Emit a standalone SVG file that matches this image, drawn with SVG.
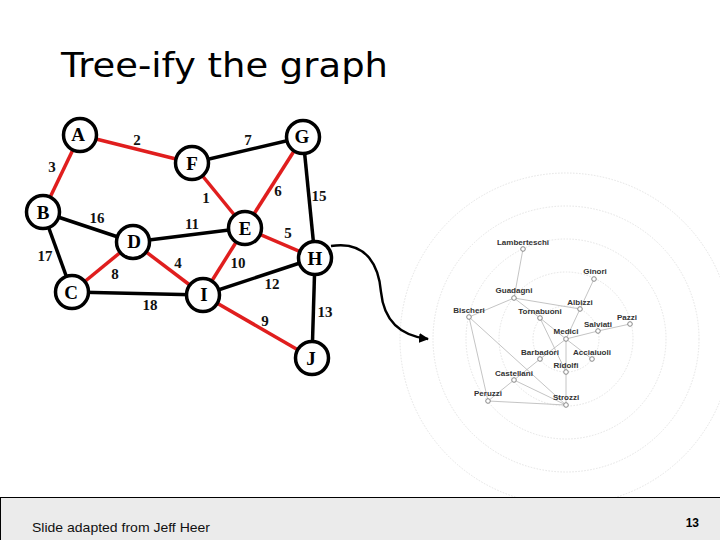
<svg xmlns="http://www.w3.org/2000/svg" width="720" height="540" viewBox="0 0 720 540">
<defs>
<style>
.e{stroke:#000;stroke-width:3.5;fill:none}
.r{stroke:#e01e1e;stroke-width:3.5;fill:none}
.n circle{fill:#fff;stroke:#000;stroke-width:3.5}
.n text{font-family:"Liberation Serif",serif;font-weight:bold;font-size:19px;text-anchor:middle}
.w{font-family:"Liberation Serif",serif;font-weight:bold;font-size:15px;text-anchor:middle;fill:#111}
.ring{fill:none;stroke:#e4e4e4;stroke-width:1;stroke-dasharray:1.5 1.5}
.fe{stroke:#bdbdbd;stroke-width:0.9;fill:none}
.fn circle{fill:#fff;stroke:#888;stroke-width:1}
.fn text{font-family:"Liberation Sans",sans-serif;font-weight:bold;font-size:8px;fill:#333;text-anchor:middle}
</style>
<marker id="ah" viewBox="0 0 10 10" refX="9" refY="5" markerWidth="4" markerHeight="4" orient="auto">
<path d="M0,0 L10,5 L0,10 z" fill="#000"/>
</marker>
</defs>
<rect width="720" height="540" fill="#fff"/>
<text x="61" y="77" font-family="DejaVu Sans,sans-serif" font-size="34" textLength="327" lengthAdjust="spacingAndGlyphs">Tree-ify the graph</text>

<g id="rings">
<circle class="ring" cx="566" cy="339" r="33"/>
<circle class="ring" cx="566" cy="339" r="67"/>
<circle class="ring" cx="566" cy="339" r="100"/>
<circle class="ring" cx="566" cy="339" r="133"/>
<circle class="ring" cx="566" cy="339" r="166"/>
</g>

<g id="connectors">
<line class="r" x1="80" y1="135" x2="192" y2="163"/>
<line class="r" x1="80" y1="135" x2="43" y2="212"/>
<line class="e" x1="192" y1="163" x2="303" y2="137"/>
<line class="r" x1="192" y1="163" x2="245" y2="228"/>
<line class="r" x1="303" y1="137" x2="245" y2="228"/>
<line class="e" x1="303" y1="137" x2="315" y2="258"/>
<line class="e" x1="43" y1="212" x2="133" y2="242"/>
<line class="e" x1="43" y1="212" x2="72" y2="292"/>
<line class="e" x1="133" y1="242" x2="245" y2="228"/>
<line class="r" x1="245" y1="228" x2="315" y2="258"/>
<line class="r" x1="133" y1="242" x2="72" y2="292"/>
<line class="r" x1="133" y1="242" x2="203" y2="295"/>
<line class="r" x1="245" y1="228" x2="203" y2="295"/>
<line class="e" x1="72" y1="292" x2="203" y2="295"/>
<line class="e" x1="203" y1="295" x2="315" y2="258"/>
<line class="r" x1="203" y1="295" x2="312" y2="358"/>
<line class="e" x1="315" y1="258" x2="312" y2="358"/>
<path d="M331,246 C368,240 379,268 381,292 C384,322 402,336 428,339" fill="none" stroke="#000" stroke-width="2.5" marker-end="url(#ah)"/>
<g id="florence-edges">
<line class="fe" x1="523" y1="249" x2="514" y2="298"/>
<line class="fe" x1="514" y1="298" x2="469" y2="317"/>
<line class="fe" x1="514" y1="298" x2="580" y2="309"/>
<line class="fe" x1="514" y1="298" x2="540" y2="318"/>
<line class="fe" x1="594" y1="279" x2="580" y2="309"/>
<line class="fe" x1="580" y1="309" x2="566" y2="339"/>
<line class="fe" x1="540" y1="318" x2="566" y2="339"/>
<line class="fe" x1="540" y1="318" x2="566" y2="372"/>
<line class="fe" x1="566" y1="339" x2="598" y2="331"/>
<line class="fe" x1="598" y1="331" x2="630" y2="324"/>
<line class="fe" x1="566" y1="339" x2="592" y2="359"/>
<line class="fe" x1="566" y1="339" x2="540" y2="359"/>
<line class="fe" x1="566" y1="339" x2="566" y2="372"/>
<line class="fe" x1="566" y1="372" x2="566" y2="405"/>
<line class="fe" x1="540" y1="359" x2="514" y2="380"/>
<line class="fe" x1="469" y1="317" x2="566" y2="405"/>
<line class="fe" x1="469" y1="317" x2="488" y2="401"/>
<line class="fe" x1="514" y1="380" x2="488" y2="401"/>
<line class="fe" x1="514" y1="380" x2="566" y2="405"/>
<line class="fe" x1="488" y1="401" x2="566" y2="405"/>
</g>
</g>

<g id="A" class="n"><circle cx="80" cy="135" r="16.5"/><text x="78" y="141">A</text></g>
<g id="F" class="n"><circle cx="192" cy="163" r="16.5"/><text x="192" y="170">F</text></g>
<g id="G" class="n"><circle cx="303" cy="137" r="16.5"/><text x="302" y="143">G</text></g>
<g id="B" class="n"><circle cx="43" cy="212" r="16.5"/><text x="43" y="219">B</text></g>
<g id="D" class="n"><circle cx="133" cy="242" r="16.5"/><text x="134" y="248">D</text></g>
<g id="E" class="n"><circle cx="245" cy="228" r="16.5"/><text x="245" y="235">E</text></g>
<g id="H" class="n"><circle cx="315" cy="258" r="16.5"/><text x="315" y="265">H</text></g>
<g id="C" class="n"><circle cx="72" cy="292" r="16.5"/><text x="71" y="299">C</text></g>
<g id="I" class="n"><circle cx="203" cy="295" r="16.5"/><text x="204" y="301">I</text></g>
<g id="J" class="n"><circle cx="312" cy="358" r="16.5"/><text x="311" y="365">J</text></g>

<g id="weights">
<text class="w" x="137" y="145">2</text>
<text class="w" x="248" y="145">7</text>
<text class="w" x="52" y="172">3</text>
<text class="w" x="206" y="203">1</text>
<text class="w" x="278" y="196">6</text>
<text class="w" x="319" y="201">15</text>
<text class="w" x="97" y="223">16</text>
<text class="w" x="192" y="229">11</text>
<text class="w" x="288" y="238">5</text>
<text class="w" x="45" y="261">17</text>
<text class="w" x="115" y="279">8</text>
<text class="w" x="178" y="268">4</text>
<text class="w" x="238" y="268">10</text>
<text class="w" x="272" y="289">12</text>
<text class="w" x="150" y="310">18</text>
<text class="w" x="265" y="326">9</text>
<text class="w" x="325" y="317">13</text>
</g>

<g id="Lamberteschi" class="fn"><circle cx="523" cy="249" r="2.3"/><text x="523" y="245">Lamberteschi</text></g>
<g id="Ginori" class="fn"><circle cx="594" cy="279" r="2.3"/><text x="595" y="274">Ginori</text></g>
<g id="Guadagni" class="fn"><circle cx="514" cy="298" r="2.3"/><text x="514" y="293">Guadagni</text></g>
<g id="Albizzi" class="fn"><circle cx="580" cy="309" r="2.3"/><text x="580" y="305">Albizzi</text></g>
<g id="Bischeri" class="fn"><circle cx="469" cy="317" r="2.3"/><text x="469" y="313">Bischeri</text></g>
<g id="Tornabuoni" class="fn"><circle cx="540" cy="318" r="2.3"/><text x="540" y="314">Tornabuoni</text></g>
<g id="Pazzi" class="fn"><circle cx="630" cy="324" r="2.3"/><text x="627" y="320">Pazzi</text></g>
<g id="Salviati" class="fn"><circle cx="598" cy="331" r="2.3"/><text x="598" y="327">Salviati</text></g>
<g id="Medici" class="fn"><circle cx="566" cy="339" r="2.3"/><text x="566" y="334">Medici</text></g>
<g id="Barbadori" class="fn"><circle cx="540" cy="359" r="2.3"/><text x="540" y="355">Barbadori</text></g>
<g id="Acciaiuoli" class="fn"><circle cx="592" cy="359" r="2.3"/><text x="592" y="355">Acciaiuoli</text></g>
<g id="Ridolfi" class="fn"><circle cx="566" cy="372" r="2.3"/><text x="566" y="368">Ridolfi</text></g>
<g id="Castellani" class="fn"><circle cx="514" cy="380" r="2.3"/><text x="514" y="376">Castellani</text></g>
<g id="Peruzzi" class="fn"><circle cx="488" cy="401" r="2.3"/><text x="488" y="396">Peruzzi</text></g>
<g id="Strozzi" class="fn"><circle cx="566" cy="405" r="2.3"/><text x="566" y="400">Strozzi</text></g>

<g id="footer">
<rect x="0.5" y="497.5" width="720" height="43" fill="#ebebeb" stroke="#000" stroke-width="1"/>
<text x="32" y="532" font-family="Liberation Sans,sans-serif" font-size="13.5" textLength="178" lengthAdjust="spacingAndGlyphs" fill="#111">Slide adapted from Jeff Heer</text>
<text x="699" y="527" font-family="Liberation Sans,sans-serif" font-size="12" font-weight="bold" text-anchor="end" fill="#000">13</text>
</g>
</svg>
